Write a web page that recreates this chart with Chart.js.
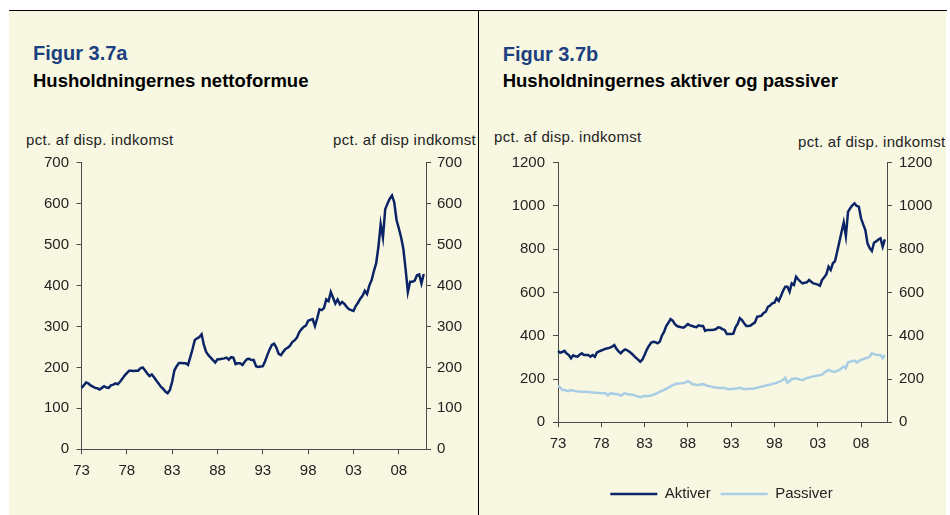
<!DOCTYPE html>
<html>
<head>
<meta charset="utf-8">
<title>Figur 3.7a / 3.7b</title>
<script src="https://cdn.jsdelivr.net/npm/chart.js@4.4.0/dist/chart.umd.min.js"></script>
<style>
  body { margin: 0; background: #fff; font-family: 'Liberation Sans', Arial, sans-serif; }
  .panel { position: absolute; top: 11px; height: 504px; background: #f8f8e2; overflow: hidden; }
  #panelA { left: 9px; width: 469px; }
  #panelB { left: 479px; width: 467px; }
  .fig { position: absolute; font-size: 20px; font-weight: bold; color: #1c3f7f; line-height: 1; white-space: nowrap; }
  .sub { position: absolute; font-size: 18.5px; font-weight: bold; color: #000; line-height: 1; white-space: nowrap; }
  .unit { position: absolute; font-size: 15px; color: #222; line-height: 1; white-space: nowrap; letter-spacing: 0.3px; }
  canvas { position: absolute; left: 0; top: 109px; }
  #topline { position: absolute; left: 9px; top: 10px; width: 938px; height: 1px; background: #000; }
  #divider { position: absolute; left: 478px; top: 10px; width: 1px; height: 505px; background: #000; }
</style>
</head>
<body>
<div id="panelA" class="panel">
  <div class="fig" style="left:24px; top:32px">Figur 3.7a</div>
  <div class="sub" style="left:24px; top:60.6px">Husholdningernes nettoformue</div>
  <div class="unit" style="left:17px; top:121.3px">pct. af disp. indkomst</div>
  <div class="unit" style="left:324px; top:121.3px">pct. af disp indkomst</div>
  <canvas id="chartA" width="469" height="395"></canvas>
</div>
<div id="panelB" class="panel">
  <div class="fig" style="left:23.7px; top:33px">Figur 3.7b</div>
  <div class="sub" style="left:23.7px; top:60.6px">Husholdningernes aktiver og passiver</div>
  <div class="unit" style="left:15px; top:118.3px">pct. af disp. indkomst</div>
  <div class="unit" style="left:319px; top:123px">pct. af disp. indkomst</div>
  <canvas id="chartB" width="467" height="420"></canvas>
</div>
<div id="topline"></div>
<div id="divider"></div>

<script>
// quarterly categories 1973K1 .. 2011K1
const quarters = [];
for (let y = 1973; y <= 2011; y++) {
  for (let q = 1; q <= 4; q++) quarters.push(y + 'K' + q);
}
quarters.length = 153;

const tickQuarters = ['1973K1', '1978K1', '1983K1', '1988K1', '1993K1', '1998K1', '2003K1', '2008K1'];
const tickLabels = ['73', '78', '83', '88', '93', '98', '03', '08'];

const ticksA = [0, 100, 200, 300, 400, 500, 600, 700];
const ticksB = [0, 200, 400, 600, 800, 1000, 1200];

// Figur 3.7a - nettoformue, pct. af disp. indkomst
const nettoformue = [
  150, 156, 163, 161,  156, 153, 150, 149,  146, 150, 154, 151,  150, 156, 158, 161,
  159, 165, 172, 180,  186, 192, 192, 191,  192, 192, 198, 200,  193, 185, 179, 183,
  176, 168, 161, 153,  148, 141, 137, 145,  165, 193, 203, 211,  211, 210, 210, 206,
  225, 245, 267, 271,  274, 281, 255, 238,  230, 224, 218, 212,  220, 220, 221, 222,
  224, 219, 225, 224,  208, 210, 210, 206,  214, 220, 221, 218,  218, 203, 201, 202,
  203, 215, 230, 244,  255, 258, 248, 233,  230, 238, 245, 248,  253, 262, 266, 272,
  285, 293, 299, 302,  314, 316, 318, 301,  320, 342, 340, 345,  366, 362, 384, 370,
  356, 366, 354, 360,  355, 348, 342, 340,  338, 350, 358, 368,  375, 387, 379, 400,
  413, 435, 454, 494,  550, 517, 586, 600,  612, 620, 603, 560,  540, 518, 490, 440,
  384, 409, 409, 412,  425, 427, 405, 428
];

// Figur 3.7b - aktiver og passiver
const aktiver = [
  330, 322, 325, 330,  318, 311, 296, 310,  305, 303, 312, 319,  311, 311, 311, 303,
  311, 303, 323, 328,  332, 336, 340, 342,  345, 350, 357, 340,  328, 319, 330, 337,
  333, 326, 318, 308,  298, 290, 280, 290,  311, 335, 353, 368,  372, 370, 365, 372,
  400, 418, 445, 460,  477, 470, 454, 445,  442, 439, 437, 445,  454, 448, 445, 442,
  440, 448, 445, 445,  423, 427, 427, 427,  428, 431, 439, 437,  430, 427, 408, 408,
  408, 410, 439, 455,  481, 472, 458, 445,  445, 447, 455, 462,  488, 490, 493, 505,
  511, 534, 540, 550,  553, 573, 561, 584,  608, 627, 627, 604,  642, 635, 673, 660,
  650, 642, 645, 647,  658, 650, 642, 640,  636, 631, 658, 670,  685, 719, 704, 735,
  745, 790, 835, 880,  924, 861, 973, 990,  1003, 1012, 1000, 997,  943, 915, 889, 827,
  805, 792, 830, 836,  845, 850, 812, 846
];
const passiver = [
  170, 160, 150, 149,  146, 145, 149, 147,  144, 142, 142, 141,  141, 141, 140, 139,
  138, 137, 136, 135,  134, 134, 134, 125,  133, 134, 131, 131,  128, 123, 130, 134,
  131, 129, 128, 126,  122, 120, 116, 119,  122, 122, 123, 123,  128, 131, 136, 141,
  146, 150, 155, 160,  166, 172, 176, 178,  179, 180, 181, 185,  190, 185, 177, 175,
  173, 172, 175, 177,  173, 169, 167, 165,  162, 161, 160, 159,  160, 158, 155, 153,
  154, 155, 155, 158,  160, 157, 153, 154,  155, 155, 155, 157,  160, 163, 165, 167,
  170, 172, 174, 177,  180, 182, 187, 190,  197, 206, 183, 190,  200, 201, 203, 200,
  197, 196, 200, 205,  207, 210, 213, 214,  216, 218, 220, 230,  236, 242, 238, 234,
  234, 238, 242, 250,  258, 250, 277, 280,  283, 285, 277, 283,  288, 292, 296, 299,
  303, 319, 315, 312,  311, 311, 296, 311
];

const navy = '#0b2466';
const lightBlue = '#a9cde4';
const axisColor = '#4a4a4a';
const textColor = '#222';

Chart.defaults.font.family = "'Liberation Sans', Arial, sans-serif";
Chart.defaults.color = textColor;

function xAxis(fontSize, fitHeight) {
  return {
    type: 'category',
    offset: false,
    grid: { drawOnChartArea: false, drawTicks: true, tickLength: 5, tickColor: axisColor },
    border: { display: true, color: axisColor },
    ticks: {
      autoSkip: false, maxRotation: 0, padding: 8, color: textColor, font: { size: fontSize },
      callback: function (v) { return tickLabels[tickQuarters.indexOf(this.getLabelForValue(v))]; }
    },
    afterBuildTicks: s => { s.ticks = s.ticks.filter(t => tickQuarters.includes(quarters[t.value])); },
    afterFit: fitHeight
  };
}

function yAxis(pos, max, tickList, width, pad, fontSize) {
  return {
    type: 'linear',
    position: pos,
    min: 0,
    max: max,
    grid: { drawOnChartArea: false, drawTicks: true, tickLength: 5, tickColor: axisColor },
    border: { display: true, color: axisColor },
    ticks: { padding: pad, color: textColor, font: { size: fontSize }, callback: v => String(v) },
    afterBuildTicks: s => { s.ticks = tickList.map(v => ({ value: v })); },
    afterFit: s => { s.width = width; }
  };
}

// Figur 3.7a
new Chart(document.getElementById('chartA'), {
  type: 'line',
  data: {
    labels: quarters,
    datasets: [{
      label: 'Nettoformue',
      data: nettoformue,
      borderColor: navy,
      backgroundColor: navy,
      borderWidth: 2.5,
      pointRadius: 0,
      tension: 0
    }]
  },
  options: {
    responsive: false,
    animation: false,
    devicePixelRatio: 1,
    layout: { padding: { top: 42.7, left: 0, right: 0, bottom: 0 } },
    plugins: { legend: { display: false }, tooltip: { enabled: false } },
    scales: {
      x: xAxis(15, s => { s.height = 395 - 329.3; }),
      y: yAxis('left', 700, ticksA, 72.5, 7.5, 15),
      y2: yAxis('right', 700, ticksA, 52, 6, 15)
    }
  }
});

// Figur 3.7b
const padBottomB = 28.5;
new Chart(document.getElementById('chartB'), {
  type: 'line',
  data: {
    labels: quarters,
    datasets: [{
      label: 'Aktiver',
      data: aktiver,
      borderColor: navy,
      backgroundColor: navy,
      borderWidth: 2.5,
      pointRadius: 0,
      tension: 0
    }, {
      label: 'Passiver',
      data: passiver,
      borderColor: lightBlue,
      backgroundColor: lightBlue,
      borderWidth: 2.5,
      pointRadius: 0,
      tension: 0
    }]
  },
  options: {
    responsive: false,
    animation: false,
    devicePixelRatio: 1,
    layout: { padding: { top: 42.7, left: 18, right: 0, bottom: padBottomB } },
    plugins: {
      legend: {
        display: true,
        position: 'bottom',
        labels: {
          usePointStyle: true, pointStyle: 'line', pointStyleWidth: 47,
          color: textColor, font: { size: 15 }, padding: 10
        }
      },
      tooltip: { enabled: false }
    },
    scales: {
      x: xAxis(15, s => { s.height = (420 - padBottomB - s.chart.legend.height) - 302.3; }),
      y: yAxis('left', 1200, ticksB, 79 - 18, 8, 15),
      y2: yAxis('right', 1200, ticksB, 59, 7, 15)
    }
  }
});
</script>
</body>
</html>
